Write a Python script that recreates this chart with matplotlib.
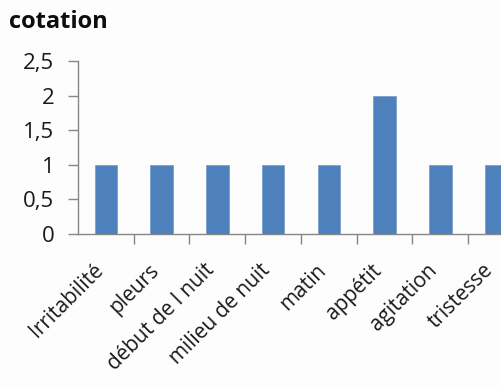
import matplotlib
matplotlib.use("Agg")
import matplotlib.pyplot as plt
import matplotlib.transforms as mtransforms
import numpy as np
from matplotlib.ticker import FixedLocator, FuncFormatter

categories = ["Irritabilité", "pleurs", "début de l nuit", "milieu de nuit",
              "matin", "appétit", "agitation", "tristesse"]
values = [1, 1, 1, 1, 1, 2, 1, 1]
yticks = [0, 0.5, 1, 1.5, 2, 2.5]

plt.rcParams['font.family'] = ['Open Sans', 'DejaVu Sans']

fig = plt.figure(figsize=(5.02, 3.87), dpi=100, facecolor="#fdfdfd")
ax = fig.add_axes([78/502, 1-234/387, 446/502, (234-61)/387])
ax.set_facecolor("#fdfdfd")

x = np.arange(len(categories))
ax.bar(x, values, width=0.4, color="#4f81bd", edgecolor="#7a9fd0", linewidth=0.6, zorder=3)

ax.set_xlim(-0.5, len(categories) - 0.5)
ax.set_ylim(0, 2.5)

for s in ["top", "right"]:
    ax.spines[s].set_visible(False)
for s in ["left", "bottom"]:
    ax.spines[s].set_color("#868686")
    ax.spines[s].set_linewidth(1.0)

ax.set_yticks(yticks)
ax.yaxis.set_major_formatter(FuncFormatter(lambda v, p: f"{v:g}".replace(".", ",")))
ax.tick_params(axis="y", length=7, width=1, color="#868686", labelsize=16,
               labelcolor="#1a1a1a", pad=10, direction="out")

ax.set_xticks(x)
ax.set_xticklabels(categories, rotation=45, ha="right", va="center",
                   rotation_mode="anchor", fontsize=15, color="#1a1a1a")
ax.tick_params(axis="x", which="major", length=0, pad=24)
shift = mtransforms.ScaledTranslation(-6/100, 0, fig.dpi_scale_trans)
for lab in ax.get_xticklabels():
    lab.set_transform(lab.get_transform() + shift)
ax.xaxis.set_minor_locator(FixedLocator(np.arange(len(categories)) + 0.5))
ax.tick_params(axis="x", which="minor", length=7, width=1, color="#868686", direction="out")

fig.text(9/502, 1-22/387, "cotation", fontsize=17, fontweight="bold",
         ha="left", va="center", color="#0d0d0d")

fig.savefig("out.png", dpi=100, facecolor=fig.get_facecolor())
